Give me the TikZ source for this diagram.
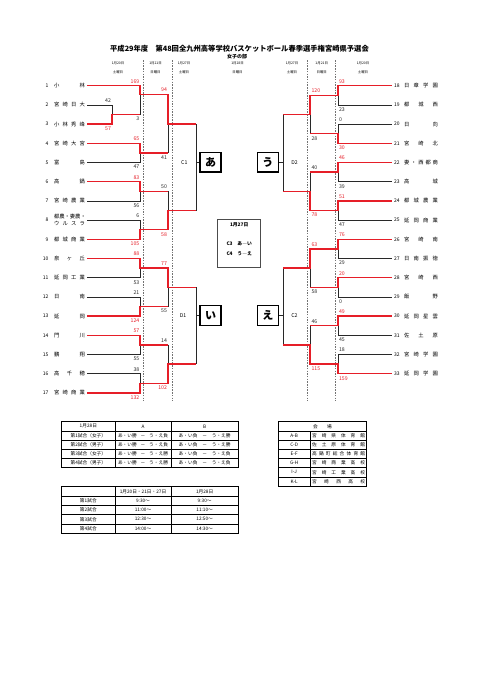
\documentclass[tikz,border=0pt]{standalone}
\usepackage{fontspec}
\setmainfont{Noto Sans CJK JP}
\definecolor{rd}{RGB}{230,30,40}
\definecolor{ln}{RGB}{40,40,40}
\newcommand\fsz[1]{\fontsize{#1}{#1}\selectfont}
\newcommand\jst[2]{\makebox[#1pt][s]{#2}}
\tikzset{
 bl/.style={draw=ln,line width=0.8pt},
 rl/.style={draw=rd,line width=1.25pt},
 dsh/.style={draw=black!55,line width=0.45pt,dash pattern=on 1.5pt off 1.2pt},
 txt/.style={inner sep=0pt,outer sep=0pt},
 tname/.style={txt,font=\fsz{5.3},anchor=west},
 tnum/.style={txt,font=\fsz{5}},
 sc/.style={txt,font=\fsz{5.2}},
 scw/.style={sc,text=rd},
 scl/.style={sc,text=ln},
 hd/.style={txt,font=\fsz{3.4}},
 rnd/.style={txt,font=\fsz{5.2}},
 kbox/.style={draw=black,line width=1.2pt,minimum width=21pt,minimum height=19.5pt,inner sep=0pt,font=\fsz{11}\bfseries},
 tbo/.style={draw=black,line width=0.9pt},
 tbi/.style={draw=black,line width=0.45pt},
 tt/.style={txt,font=\fsz{4.7}},
}
\begin{document}
\begin{tikzpicture}[x=1pt,y=-1pt]
\useasboundingbox (0,0) rectangle (481,680);
\fill[white] (0,0) rectangle (481,680);
% title
\node[txt,font=\fsz{7.3}\bfseries] (title) at (239.5,48.7) {平成29年度　第48回全九州高等学校バスケットボール春季選手権宮崎県予選会};
\node[txt,font=\fsz{5}\bfseries] (sub) at (237,56.3) {女子の部};
% day headers
\foreach \x/\d/\w [count=\k] in {118/1月20日/土曜日,155.5/1月21日/日曜日,184/1月27日/土曜日,237.5/1月28日/日曜日,292/1月27日/土曜日,321.7/1月21日/日曜日,363/1月20日/土曜日}{
 \node[hd] (hd\k) at (\x,63.3) {\d};
 \node[hd] (hw\k) at (\x,72) {\w};
}
% dashed separators
\foreach \x in {143,172,307,335} \draw[dsh] (\x,60) -- (\x,401);
% left teams
\foreach \i/\nm in {1/{小\hfill 林},2/{宮\hfill 崎\hfill 日\hfill 大},3/{小\hfill 林\hfill 秀\hfill 峰},4/{宮\hfill 崎\hfill 大\hfill 宮},5/{富\hfill 島},6/{高\hfill 鍋},7/{宮\hfill 崎\hfill 農\hfill 業},9/{都\hfill 城\hfill 商\hfill 業},10/{泉\hfill ヶ\hfill 丘},11/{延\hfill 岡\hfill 工\hfill 業},12/{日\hfill 南},13/{延\hfill 岡},14/{門\hfill 川},15/{鵬\hfill 翔},16/{高\hfill 千\hfill 穂},17/{宮\hfill 崎\hfill 商\hfill 業}}{
 \pgfmathsetmacro\yy{85.7+(\i-1)*19.2}
 \node[tnum,anchor=east] (nL\i) at (48.5,\yy) {\i};
 \node[tname] (tL\i) at (54,\yy) {\jst{31}{\nm}};
}
\node[tnum,anchor=east] (nL8) at (48.5,220.1) {8};
\node[tname] (tL8a) at (54,216.6) {\jst{31}{都\hfill 農\hfill ・\hfill 妻\hfill 農\hfill ・}};
\node[tname] (tL8b) at (54,223.4) {\jst{31}{ウ\hfill ル\hfill ス\hfill ラ}};
% right teams
\foreach \i/\nm in {18/{日\hfill 章\hfill 学\hfill 園},19/{都\hfill 城\hfill 西},20/{日\hfill 向},21/{宮\hfill 崎\hfill 北},22/{妻\hfill ・\hfill 西\hfill 都\hfill 商},23/{高\hfill 城},24/{都\hfill 城\hfill 農\hfill 業},25/{延\hfill 岡\hfill 商\hfill 業},26/{宮\hfill 崎\hfill 南},27/{日\hfill 南\hfill 振\hfill 徳},28/{宮\hfill 崎\hfill 西},29/{飯\hfill 野},30/{延\hfill 岡\hfill 星\hfill 雲},31/{佐\hfill 土\hfill 原},32/{宮\hfill 崎\hfill 学\hfill 園},33/{延\hfill 岡\hfill 学\hfill 園}}{
 \pgfmathsetmacro\yy{85.7+(\i-18)*19.2}
 \node[tnum,anchor=west] (nR\i) at (394,\yy) {\i};
 \node[tname] (tR\i) at (404,\yy) {\jst{34}{\nm}};
}
% boxes
\node[kbox] (A) at (210.5,162.3) {あ};
\node[kbox] (U) at (267.8,162.3) {う};
\node[kbox] (I) at (210.5,315.4) {い};
\node[kbox] (E) at (267.8,315.4) {え};
\node[rnd] (c1) at (184.3,162.7) {C1};
\node[rnd] (d1) at (183,316) {D1};
\node[rnd] (d2) at (294.5,162.3) {D2};
\node[rnd] (c2) at (294.5,316) {C2};
% centre box
\node[draw=black!70,line width=0.9pt,minimum width=43pt,minimum height=48.4pt,inner sep=0pt] (cb) at (239.2,243.5) {};
\node[txt,font=\fsz{4.8}\bfseries] (cb1) at (239.2,224.6) {1月27日};
\node[txt,font=\fsz{4.8}\bfseries] (cb2) at (239.2,243.7) {C3　あ―い};
\node[txt,font=\fsz{4.8}\bfseries] (cb3) at (239.2,253.3) {C4　う―え};
% ---- left bracket black
\draw[bl] (87,104.9) -- (112,104.9) -- (112,114.5);
\draw[bl] (140,114.5) -- (140,94.3);
\draw[bl] (87,162.5) -- (140,162.5) -- (140,152.9);
\draw[bl] (168,152.9) -- (168,124);
\draw[bl] (87,200.9) -- (140,200.9) -- (140,191.3);
\draw[bl] (87,220.1) -- (140,220.1) -- (140,229.7);
\draw[bl] (168,191.3) -- (168,210.5);
\draw[bl] (87,277.7) -- (140,277.7) -- (140,268.1);
\draw[bl] (87,296.9) -- (140,296.9) -- (140,306.5);
\draw[bl] (168,306.5) -- (168,287.3);
\draw[bl] (87,354.5) -- (140,354.5) -- (140,344.9);
\draw[bl] (87,373.7) -- (140,373.7) -- (140,383.3);
\draw[bl] (168,344.9) -- (168,364.1);
\draw[bl] (196,124) -- (196,210.5);
\draw[bl] (196,287.3) -- (196,364.1);
\draw[bl] (196,162.3) -- (A.west);
\draw[bl] (196,315.4) -- (I.west);
% ---- left bracket red
\draw[rl] (87,85.7) -- (140,85.7) -- (140,94.3) -- (168,94.3) -- (168,124) -- (196,124);
\draw[rl] (87,124.1) -- (112,124.1) -- (112,114.5) -- (140,114.5);
\draw[rl] (87,143.3) -- (140,143.3) -- (140,152.9) -- (168,152.9);
\draw[rl] (87,181.7) -- (140,181.7) -- (140,191.3) -- (168,191.3);
\draw[rl] (87,239.3) -- (140,239.3) -- (140,229.7) -- (168,229.7) -- (168,210.5) -- (196,210.5);
\draw[rl] (87,258.5) -- (140,258.5) -- (140,268.1) -- (168,268.1) -- (168,287.3) -- (196,287.3);
\draw[rl] (87,316.1) -- (140,316.1) -- (140,306.5) -- (168,306.5);
\draw[rl] (87,335.3) -- (140,335.3) -- (140,344.9) -- (168,344.9);
\draw[rl] (87,392.9) -- (140,392.9) -- (140,383.3) -- (168,383.3) -- (168,364.1) -- (196,364.1);
% ---- right bracket black
\draw[bl] (391.7,104.9) -- (338,104.9) -- (338,95.3);
\draw[bl] (391.7,124.1) -- (338,124.1) -- (338,133.7);
\draw[bl] (310,133.7) -- (310,114.5);
\draw[bl] (391.7,181.7) -- (338,181.7) -- (338,172.1);
\draw[bl] (391.7,220.1) -- (338,220.1) -- (338,210.5);
\draw[bl] (310,172.1) -- (310,191.3);
\draw[bl] (391.7,258.5) -- (338,258.5) -- (338,248.9);
\draw[bl] (391.7,296.9) -- (338,296.9) -- (338,287.3);
\draw[bl] (310,287.3) -- (310,268.1);
\draw[bl] (391.7,335.3) -- (338,335.3) -- (338,325.7);
\draw[bl] (391.7,354.5) -- (338,354.5) -- (338,364.1);
\draw[bl] (310,325.7) -- (310,344.9);
\draw[bl] (283,114.5) -- (283,191.3);
\draw[bl] (283,268.1) -- (283,344.9);
\draw[bl] (283,162.3) -- (U.east);
\draw[bl] (283,315.4) -- (E.east);
% ---- right bracket red
\draw[rl] (391.7,85.7) -- (338,85.7) -- (338,95.3) -- (310,95.3) -- (310,114.5) -- (283,114.5);
\draw[rl] (391.7,143.3) -- (338,143.3) -- (338,133.7) -- (310,133.7);
\draw[rl] (391.7,162.5) -- (338,162.5) -- (338,172.1) -- (310,172.1);
\draw[rl] (391.7,200.9) -- (338,200.9) -- (338,210.5) -- (310,210.5) -- (310,191.3) -- (283,191.3);
\draw[rl] (391.7,239.3) -- (338,239.3) -- (338,248.9) -- (310,248.9) -- (310,268.1) -- (283,268.1);
\draw[rl] (391.7,277.7) -- (338,277.7) -- (338,287.3) -- (310,287.3);
\draw[rl] (391.7,316.1) -- (338,316.1) -- (338,325.7) -- (310,325.7);
\draw[rl] (391.7,373.7) -- (338,373.7) -- (338,364.1) -- (310,364.1) -- (310,344.9) -- (283,344.9);
% ---- scores
\foreach \v/\y/\st [count=\k] in {42/100.4/scl,57/128.6/scw}
 \node[\st,anchor=east] (sP\k) at (111,\y) {\v};
\foreach \v/\y/\st [count=\k] in {169/81.2/scw,3/119.0/scl,65/138.8/scw,47/167.0/scl,83/177.2/scw,56/205.4/scl,6/215.6/scl,105/243.8/scw,88/254.0/scw,53/282.2/scl,21/292.4/scl,124/320.6/scw,57/330.8/scw,55/359.0/scl,38/369.2/scl,132/397.4/scw}
 \node[\st,anchor=east] (sL\k) at (139.3,\y) {\v};
\foreach \v/\y/\st [count=\k] in {94/89.8/scw,41/157.4/scl,50/186.8/scl,58/234.2/scw,77/263.6/scw,55/311.0/scl,14/340.4/scl,102/387.8/scw}
 \node[\st,anchor=east] (sM\k) at (167,\y) {\v};
\foreach \v/\y/\st [count=\k] in {93/81.2/scw,23/109.4/scl,0/119.6/scl,30/147.8/scw,46/158.0/scw,39/186.2/scl,51/196.4/scw,47/224.6/scl,76/234.8/scw,29/263.0/scl,20/273.2/scw,0/301.4/scl,49/311.6/scw,45/339.8/scl,18/350.0/scl,159/378.2/scw}
 \node[\st,anchor=west] (sR\k) at (339,\y) {\v};
\foreach \v/\y/\st [count=\k] in {120/90.8/scw,28/138.2/scl,40/167.6/scl,78/215.0/scw,63/244.4/scw,58/291.8/scl,46/321.2/scl,115/368.6/scw}
 \node[\st,anchor=west] (sN\k) at (311.5,\y) {\v};
% ---- table 1
\draw[tbo] (61.7,421.7) rectangle (238.3,467.7);
\foreach \yy in {440.1,449.3,458.5} \draw[tbi] (61.7,\yy) -- (238.3,\yy);
\draw[draw=black,line width=0.8pt] (61.7,430.9) -- (238.3,430.9);
\foreach \xx in {115,171} \draw[tbi] (\xx,421.7) -- (\xx,467.7);
\node[tt] (t1h1) at (88.35,426.3) {1月28日};
\node[tt] (t1h2) at (143,426.3) {A};
\node[tt] (t1h3) at (204.65,426.3) {B};
\foreach \y/\g/\a/\b [count=\k] in {435.5/第1試合（女子）/負/勝,444.7/第2試合（男子）/負/勝,453.9/第3試合（女子）/勝/負,463.1/第4試合（男子）/勝/負}{
 \node[tt] (t1a\k) at (88.35,\y) {\g};
 \node[tt] (t1b\k) at (143,\y) {\jst{50}{あ・い勝\hfill －\hfill う・え\a}};
 \node[tt] (t1c\k) at (204.65,\y) {\jst{52}{あ・い負\hfill －\hfill う・え\b}};
}
% ---- table 2
\draw[tbo] (278.3,421.7) rectangle (366.7,486.1);
\foreach \yy in {440.1,449.3,458.5,467.7,476.9} \draw[tbi] (278.3,\yy) -- (366.7,\yy);
\draw[draw=black,line width=0.8pt] (278.3,430.9) -- (366.7,430.9);
\draw[tbi] (310,430.9) -- (310,486.1);
\node[tt] (t2h) at (322.5,426.3) {会　　場};
\foreach \y/\c/\n [count=\k] in {435.5/A-B/{宮\hfill 崎\hfill 県\hfill 体\hfill 育\hfill 館},444.7/C-D/{佐\hfill 土\hfill 原\hfill 体\hfill 育\hfill 館},453.9/E-F/{高\hfill 鍋\hfill 町\hfill 総\hfill 合\hfill 体\hfill 育\hfill 館},463.1/G-H/{宮\hfill 崎\hfill 商\hfill 業\hfill 高\hfill 校},472.3/I-J/{宮\hfill 崎\hfill 工\hfill 業\hfill 高\hfill 校},481.5/K-L/{宮\hfill 崎\hfill 西\hfill 高\hfill 校}}{
 \node[tt] (t2a\k) at (294.15,\y) {\c};
 \node[tt] (t2b\k) at (338.6,\y) {\jst{53}{\n}};
}
% ---- table 3
\draw[tbo] (61.7,486.7) rectangle (238.3,533.2);
\foreach \yy in {505.3,514.6,523.9} \draw[tbi] (61.7,\yy) -- (238.3,\yy);
\draw[draw=black,line width=0.8pt] (61.7,496) -- (238.3,496);
\foreach \xx in {115,171} \draw[tbi] (\xx,486.7) -- (\xx,533.2);
\node[tt] (t3h2) at (143,491.35) {1月20日・21日・27日};
\node[tt] (t3h3) at (204.65,491.35) {1月28日};
\foreach \y/\g/\a/\b [count=\k] in {500.65/第1試合/9:30〜/9:30〜,509.95/第2試合/11:00〜/11:10〜,519.25/第3試合/12:30〜/12:50〜,528.55/第4試合/14:00〜/14:30〜}{
 \node[tt] (t3a\k) at (88.35,\y) {\g};
 \node[tt] (t3b\k) at (143,\y) {\a};
 \node[tt] (t3c\k) at (204.65,\y) {\b};
}
\end{tikzpicture}
\end{document}
